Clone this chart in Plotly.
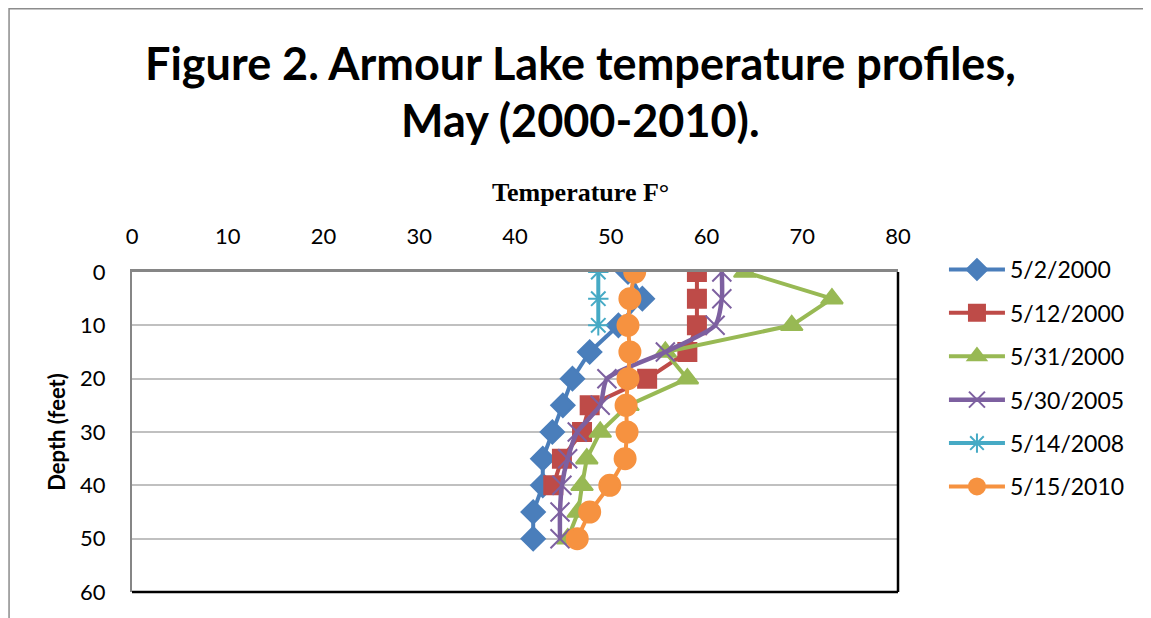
import plotly.graph_objects as go

depth = [0, 5, 10, 15, 20, 25, 30, 35, 40, 45, 50]

temp_0502_2000 = [51.8, 53.3, 50.8, 47.8, 46.0, 45.0, 43.9, 42.9, 42.9, 41.9, 41.9]
temp_0512_2000 = [59.0, 59.0, 59.0, 58.0, 53.8, 47.8, 47.0, 44.9, 44.0]
temp_0531_2000 = [64.0, 73.1, 68.9, 55.7, 58.0, 51.8, 48.9, 47.5, 47.0, 46.6, 45.5]
temp_0530_2005 = [61.6, 61.6, 60.9, 55.7, 49.6, 48.9, 46.5, 45.5, 44.9, 44.7, 44.7]
temp_0514_2008 = [48.7, 48.7, 48.7]
temp_0515_2010 = [52.5, 52.0, 51.8, 52.0, 51.8, 51.6, 51.7, 51.5, 49.9, 47.8, 46.5]

series = [
    ("5/2/2000", temp_0502_2000, "#4A7EBB", "diamond", 18, "linear", 4),
    ("5/12/2000", temp_0512_2000, "#BE4B48", "square", 18, "linear", 4),
    ("5/31/2000", temp_0531_2000, "#98B954", "triangle-up", 19, "linear", 4),
    ("5/30/2005", temp_0530_2005, "#7D60A0", "x-thin-open", 19, "spline", 4.5),
    ("5/14/2008", temp_0514_2008, "#46AAC5", "asterisk-open", 17, "linear", 4),
    ("5/15/2010", temp_0515_2010, "#F69240", "circle", 21, "linear", 4),
]

fig = go.Figure()

for i, (name, temps, color, symbol, size, shape, width) in enumerate(series):
    fig.add_trace(go.Scatter(
        x=temps,
        y=depth[:len(temps)],
        mode='lines+markers',
        name=name,
        legendgroup=str(i),
        line=dict(color=color, width=width, shape=shape, smoothing=0.6),
        marker=dict(symbol=symbol, size=size, color=color,
                    line=dict(color=color, width=2)),
    ))

# title, two lines
fig.add_annotation(text="<b>Figure 2. Armour Lake temperature profiles,</b>",
                   xref='paper', yref='paper', x=0.586, y=1.743,
                   showarrow=False, font=dict(family="Lato", size=45, color="black"))
fig.add_annotation(text="<b>May (2000-2010).</b>",
                   xref='paper', yref='paper', x=0.586, y=1.566,
                   showarrow=False, font=dict(family="Lato", size=45, color="black"))

# x axis title (serif, like the original)
fig.add_annotation(text="<b>Temperature F°</b>",
                   xref='paper', yref='paper', x=0.586, y=1.30,
                   showarrow=False,
                   font=dict(family="Liberation Serif", size=26, color="black"))

# black plot border on the right and bottom
fig.add_shape(type='line', xref='paper', yref='paper', x0=1, x1=1, y0=0, y1=1,
              line=dict(color='black', width=2.5))
fig.add_shape(type='line', xref='paper', yref='paper', x0=0, x1=1, y0=0, y1=0,
              line=dict(color='black', width=2.5))
# chart outer frame
fig.add_shape(type='rect', xref='paper', yref='paper',
              x0=-0.1605, x1=1.5, y0=-0.2, y1=1.823,
              line=dict(color='#8C8C8C', width=1.5))

fig.update_xaxes(
    range=[0, 80], dtick=10, side='top',
    showgrid=False, zeroline=False,
    showline=True, linecolor='#868686', linewidth=2.5,
    ticks='', ticklabelstandoff=16,
    tickfont=dict(family="Lato", size=22, color="black"),
)
fig.update_yaxes(
    range=[60, 0], dtick=10,
    showgrid=True, gridcolor='#C0C0C0', gridwidth=2, zeroline=False,
    showline=True, linecolor='#868686', linewidth=2,
    ticks='', ticklabelstandoff=20,
    tickfont=dict(family="Lato", size=22, color="black"),
    title=dict(text="<b>Depth (feet)</b>", standoff=8,
               font=dict(family="Lato", size=22, color="black")),
)

fig.update_layout(
    width=1151, height=618,
    margin=dict(l=124, r=261, t=264, b=34),
    paper_bgcolor='white',
    plot_bgcolor='white',
    legend=dict(x=1.06, y=1.075, xanchor='left', yanchor='top',
                font=dict(family="Lato", size=23, color="black"),
                tracegroupgap=10.5, itemwidth=56, bgcolor='rgba(0,0,0,0)'),
    showlegend=True,
)

fig.write_html("out.html")
